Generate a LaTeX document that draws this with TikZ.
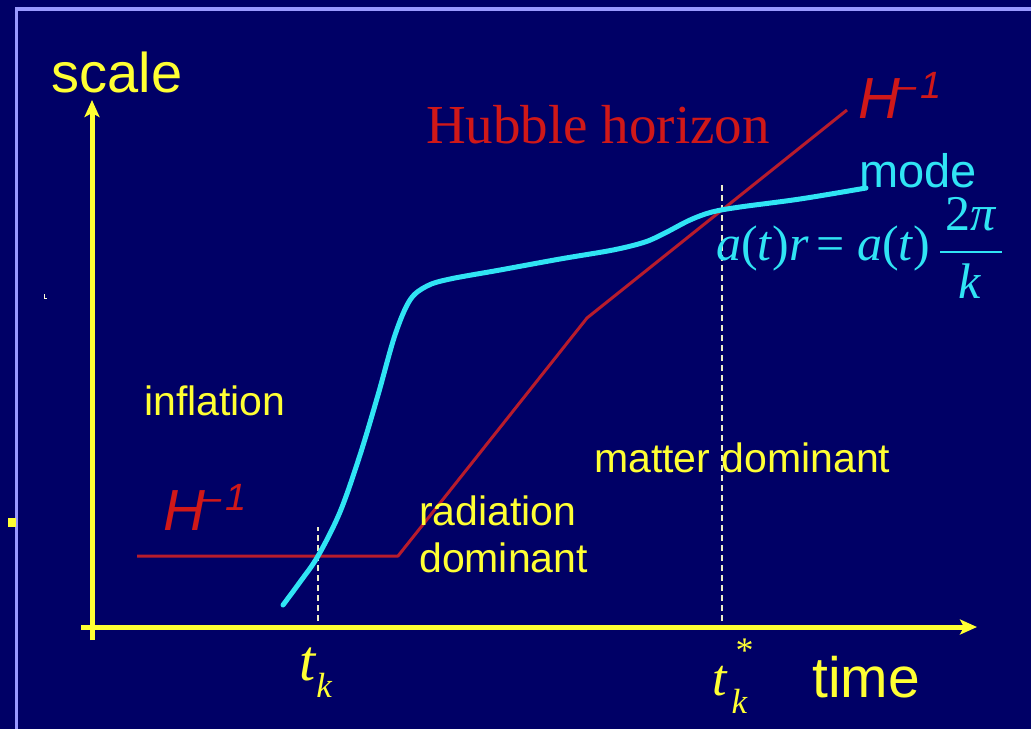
\documentclass[tikz,border=0pt]{standalone}
\usepackage{fontspec}
\setmainfont{Liberation Sans}
\newfontfamily\timesfont{Liberation Serif}
\usetikzlibrary{arrows.meta,positioning}
\definecolor{fondo}{HTML}{000066}
\definecolor{marco}{HTML}{9999FF}
\definecolor{amarillo}{HTML}{FFFF33}
\definecolor{rojo}{HTML}{B81C2C}
\definecolor{rojoTxt}{HTML}{D01818}
\definecolor{cian}{HTML}{30E4F4}
\definecolor{guiaClara}{HTML}{EEEEC8}
\newcommand{\hinv}{\textit{H}\kern-5pt\raisebox{20pt}{\fontsize{38}{38}\selectfont\textit{\textendash\kern4pt 1}}}
\begin{document}
\begin{tikzpicture}[x=1pt, y=-1pt,
    eje/.style={draw=amarillo, line width=5pt, -{Stealth[length=17pt,width=15pt,inset=4pt]}},
    horizonte/.style={draw=rojo, line width=3pt, line join=round},
    modo/.style={draw=cian, line width=5pt, line cap=round, line join=round},
    guia/.style={draw=guiaClara, line width=1.3pt, dash pattern=on 6pt off 4pt},
    etiqueta/.style={text=amarillo, inner sep=0pt, anchor=base west, font=\fontsize{41}{47}\selectfont},
    etqH/.style={text=rojoTxt, inner sep=0pt, anchor=base west, font=\fontsize{58}{60}\selectfont},
    formula/.style={text=cian, inner sep=0pt, anchor=base west, font=\timesfont\fontsize{50}{56}\selectfont},
    etqT/.style={text=amarillo, inner sep=0pt, anchor=base west, font=\timesfont\fontsize{58}{60}\selectfont}
  ]
  % --- fondo y marco ---
  \fill[fondo] (0,0) rectangle (1031,729);
  \useasboundingbox (0,0) rectangle (1031,729);
  \draw[marco, line width=3.5pt] (15,9) -- (1031,9);
  \draw[marco, line width=3.5pt] (16.5,9) -- (16.5,729);
  \fill[amarillo] (8,518) rectangle (16,527);
  \draw[white!85!yellow, line width=0.8pt] (44,294) -- (44,298.5) -- (47,298.5);

  % --- ejes ---
  \coordinate (yBase) at (92,640);
  \coordinate (yTop) at (92,100);
  \coordinate (xBase) at (81,627);
  \coordinate (xEnd) at (977,627);
  \draw[eje] (yBase) -- (yTop);
  \draw[eje] (xBase) -- (xEnd);
  \node[etiqueta, anchor=base, font=\fontsize{56}{60}\selectfont] (scale) at (117,92) {scale};
  \node[etiqueta, font=\fontsize{57}{60}\selectfont] (time) at (812,697) {time};

  % --- guias t_k y t_k^* ---
  \coordinate (tk) at (318,621);
  \coordinate (tkStar) at (722,621);
  \draw[guia] (tk) -- ++(0,-94);
  \draw[guia] (tkStar) -- ++(0,-436);
  \node[etqT] (tkLbl) at (299,680) {\textit{t}\raisebox{-17pt}{\fontsize{35}{35}\selectfont\textit{k}}};
  \node[etqT, font=\timesfont\fontsize{52}{56}\selectfont] (tkStarLbl) at (712,695)
    {\textit{t}\kern4pt\rlap{\kern4pt\raisebox{33pt}{\fontsize{36}{36}\selectfont *}}\raisebox{-18pt}{\fontsize{35}{35}\selectfont\textit{k}}};

  % --- horizonte de Hubble ---
  \draw[horizonte] (137,556) -- (398,556) -- (587,318) -- (847,110);
  \node[etqH] (hTop) at (858,118) {\hinv};
  \node[etqH] (hLeft) at (163,530) {\hinv};
  \node[etqH, font=\timesfont\fontsize{55}{60}\selectfont] (hubble) at (426,143) {Hubble horizon};

  % --- modo ---
  \draw[modo] plot[smooth, tension=0.55] coordinates {
    (283,605) (300,582) (318,556) (340,512) (360,455) (378,395) (395,335) (410,300)
    (427,286) (450,279) (500,270) (560,259) (613,250) (645,242) (665,233) (690,220)
    (712,212) (740,207) (800,199) (866,188)};
  \node[etiqueta, text=cian, font=\fontsize{47}{50}\selectfont] (mode) at (859,187) {mode};
  \node[formula] (lhs) at (716,260) {\textit{a}(\textit{t})\textit{r}\kern7pt=\kern13pt\textit{a}(\textit{t})};
  \node[formula, anchor=base] (num) at (971,230) {2\textit{π}};
  \node[formula, anchor=base] (den) at (970,298) {\textit{k}};
  \draw[cian, line width=2.5pt] (940,252) -- (1002,252);

  % --- epocas ---
  \node[etiqueta] (inflation) at (144,415) {inflation};
  \node[etiqueta] (rad) at (419,525) {radiation};
  \node[etiqueta] (dom) at ([yshift=-47pt]rad.base west) {dominant};
  \node[etiqueta] (matter) at (594,472) {matter dominant};
\end{tikzpicture}
\end{document}
